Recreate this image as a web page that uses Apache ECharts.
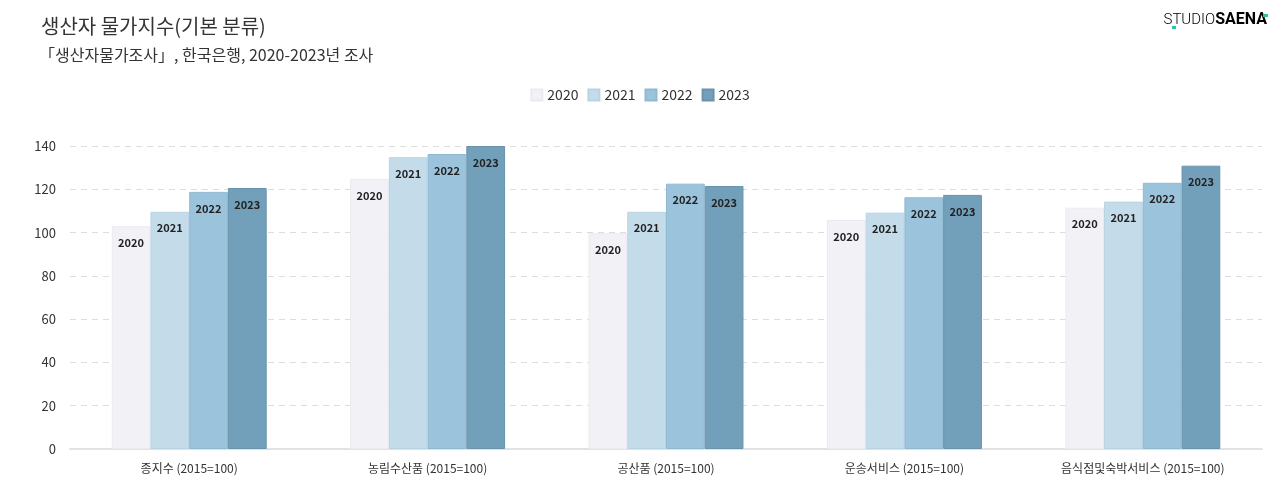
<!DOCTYPE html>
<html>
<head>
<meta charset="utf-8">
<script src="https://cdn.jsdelivr.net/npm/echarts@6/dist/echarts.min.js"></script>
<style>html,body{margin:0;padding:0;background:#fff}#c{width:1280px;height:490px}</style>
</head>
<body>
<div id="c"></div>
<script>
const categories = ['종지수 (2015=100)', '농림수산품 (2015=100)', '공산품 (2015=100)', '운송서비스 (2015=100)', '음식점및숙박서비스 (2015=100)'];
const years = ['2020', '2021', '2022', '2023'];
const v2020 = [102.9, 124.8, 99.7, 105.8, 111.5];
const v2021 = [109.6, 134.8, 109.6, 109.2, 114.3];
const v2022 = [118.8, 136.3, 122.6, 116.3, 123.0];
const v2023 = [120.6, 140.0, 121.5, 117.4, 130.9];
const yTicks = [0, 20, 40, 60, 80, 100, 120, 140];

const colors = ['#f2f1f6', '#c4dcea', '#9bc3db', '#729fb9'];
const borders = ['#ebeaf0', '#b8d3e4', '#8fb9d3', '#6894ae'];
const seriesData = [v2020, v2021, v2022, v2023];
const FONT = '"Noto Sans CJK KR", "Noto Sans", sans-serif';

const chart = echarts.init(document.getElementById('c'));
chart.setOption({
  textStyle: { fontFamily: FONT },
  title: [
    { text: '생산자 물가지수(기본 분류)', left: 36, top: 11,
      textStyle: { fontSize: 20, fontWeight: 'normal', color: '#333', fontFamily: FONT } },
    { text: '「생산자물가조사」, 한국은행, 2020-2023년 조사', left: 34, top: 42,
      textStyle: { fontSize: 16, fontWeight: 'normal', color: '#333', fontFamily: FONT } }
  ],
  graphic: [{
    type: 'text', right: 13, top: 12,
    style: {
      text: '{a|STUDIO}{b|SAENA}',
      rich: {
        a: { fontSize: 15, color: '#555', fontFamily: 'Roboto', fontWeight: 300 },
        b: { fontSize: 16, color: '#1d2b45', fontFamily: 'Roboto', fontWeight: 'bold' }
      }
    }
  }, {
    type: 'rect', right: 104, top: 26, shape: { width: 4, height: 3 }, style: { fill: '#2bc4a6' }
  }, {
    type: 'rect', right: 12, top: 14, shape: { width: 5, height: 3 }, style: { fill: '#2bc4a6' }
  }],
  legend: {
    top: 83, left: 'center', itemWidth: 11, itemHeight: 11, itemGap: 9,
    icon: 'rect',
    textStyle: { fontSize: 14, color: '#333', fontFamily: FONT },
    data: years
  },
  grid: { left: 70, right: 18, top: 146, bottom: 41 },
  xAxis: {
    type: 'category', data: categories,
    axisLine: { lineStyle: { color: '#e2e2e2', width: 2 } },
    axisTick: { show: false },
    axisLabel: { fontSize: 12, color: '#333', margin: 13, fontFamily: FONT }
  },
  yAxis: {
    type: 'value', min: 0, max: 140, interval: 20,
    axisLine: { show: false }, axisTick: { show: false },
    axisLabel: { fontSize: 13, color: '#333', margin: 14,
      formatter: v => yTicks.includes(v) ? String(v) : '' },
    splitLine: { lineStyle: { color: '#dcdcdc', type: [6, 5], width: 1 } }
  },
  series: years.map((y, i) => ({
    name: y, type: 'bar', data: seriesData[i],
    barGap: '0%', barCategoryGap: '35%',
    itemStyle: { color: colors[i], borderColor: borders[i], borderWidth: 1 },
    label: {
      show: true, position: 'insideTop', distance: 11,
      formatter: () => y,
      fontSize: 11, fontWeight: 'bold', color: '#222', fontFamily: FONT
    }
  }))
});
</script>
</body>
</html>
